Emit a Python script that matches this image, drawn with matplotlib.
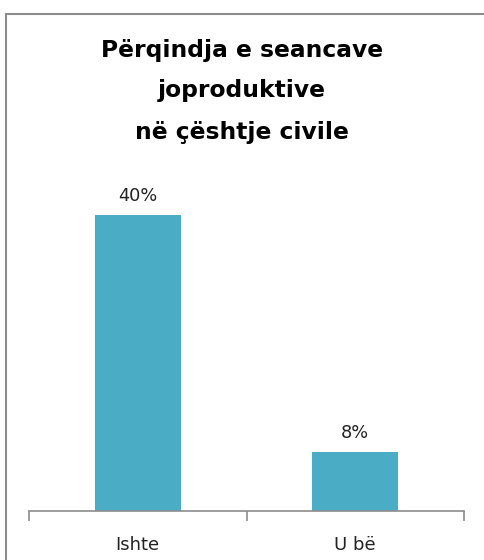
import matplotlib
matplotlib.use("Agg")
import matplotlib.pyplot as plt
from matplotlib.patches import Rectangle

# data
categories = ["Ishte", "U bë"]
values = [40, 8]
labels = ["40%", "8%"]
title = "Përqindja e seancave\njoproduktive\nnë çështje civile"

bar_color = "#4BACC6"
grey = "#8c8c8c"

fig = plt.figure(figsize=(4.84, 5.6), dpi=100)
fig.patch.set_facecolor("white")

# outer chart border (only top/left visible in the crop)
fig.patches.append(Rectangle((5.5 / 484, -0.1), 1.2, 1 - 13.5 / 560 + 0.1,
                             transform=fig.transFigure, fill=False,
                             edgecolor=grey, linewidth=1.5))

ax = fig.add_axes([29 / 484, 1 - 511 / 560, 435 / 484, 341 / 560])
x = range(len(categories))
bars = ax.bar(x, values, width=0.395, color=bar_color)
ax.set_xlim(-0.5, 1.5)
ax.set_ylim(0, 46.1)

for b, lab in zip(bars, labels):
    ax.annotate(lab, (b.get_x() + b.get_width() / 2, b.get_height()),
                xytext=(0, 7), textcoords="offset points", ha="center",
                va="bottom", fontsize=12.8, color="#222222")

for s in ["top", "right", "left"]:
    ax.spines[s].set_visible(False)
ax.spines["bottom"].set_color(grey)
ax.spines["bottom"].set_linewidth(1.2)
ax.set_yticks([])
ax.set_xticks([-0.5, 0.5, 1.5])
ax.set_xticklabels([])
ax.set_xticks(list(x), minor=True)
ax.set_xticklabels(categories, minor=True, fontsize=13, color="#222222")
ax.tick_params(axis="x", which="major", length=7, width=1.2, color=grey)
ax.tick_params(axis="x", which="minor", length=0, pad=18)

fig.text(0.5, 1 - 91 / 560, title, ha="center", va="center",
         fontsize=16.8, fontweight="bold", linespacing=2.0)

fig.savefig("out.png", dpi=100)
